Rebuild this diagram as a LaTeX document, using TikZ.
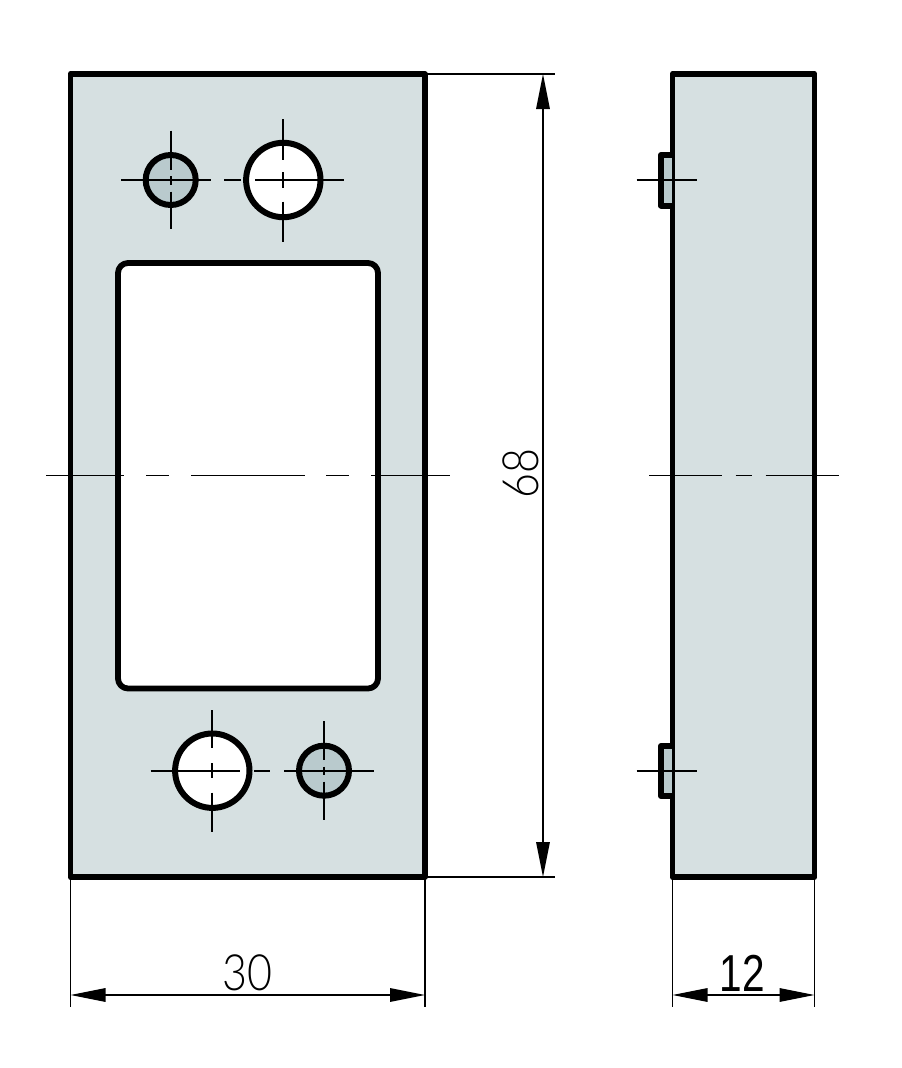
\documentclass[tikz,border=0pt]{standalone}
\usepackage{fontspec}
\setmainfont{Liberation Sans}
\newfontfamily\isofont{Lato Light}
\usetikzlibrary{arrows.meta}
\definecolor{plate}{HTML}{D6E0E1}
\definecolor{bore}{HTML}{B9CACD}
\tikzset{
  outline/.style={draw=black,line width=5.8pt,line join=round},
  hole line/.style={draw=black,line width=6pt},
  thin line/.style={draw=black,line width=1.5pt},
  centre line/.style={draw=black,line width=1.7pt},
  dim line/.style={draw=black,line width=1.5pt,{Triangle[length=35pt,width=13.5pt]}-{Triangle[length=35pt,width=13.5pt]}},
  dim text/.style={inner sep=0pt,font=\isofont\fontsize{50}{50}\selectfont},
  dim text b/.style={inner sep=0pt,font=\fontsize{52}{52}\selectfont},
}
\begin{document}
\begin{tikzpicture}[x=1pt,y=-1pt]
\useasboundingbox (0,0) rectangle (902,1068);
\fill[white] (0,0) rectangle (902,1068);
% named points for dimension geometry
\coordinate (fTL) at (70.5,74);
\coordinate (fTR) at (425,74);
\coordinate (fBL) at (70.5,877);
\coordinate (fBR) at (425,877);
\coordinate (sBL) at (672.5,877);
\coordinate (sBR) at (814.5,877);
\coordinate (e1) at (555,74);
\coordinate (e2) at (555,877);
\coordinate (e3) at (70.5,1007);
\coordinate (e4) at (425,1007);
\coordinate (e5) at (672.5,1007);
\coordinate (e6) at (814.5,1007);
\coordinate (d1) at (543,74);
\coordinate (d2) at (543,877);
\coordinate (d3) at (70.5,995);
\coordinate (d4) at (425,995);
\coordinate (d5) at (672.5,995);
\coordinate (d6) at (814.5,995);
% front plate
\draw[outline,fill=plate] (fTL) rectangle (fBR);
\draw[outline,fill=white,rounded corners=10pt] (118,263) rectangle (378,688.5);
% holes
\draw[hole line,fill=bore] (170.7,180) circle (25);
\draw[hole line,fill=white] (283.3,180) circle (37.2);
\draw[hole line,fill=white] (212.3,770.7) circle (37.2);
\draw[hole line,fill=bore] (324,770.7) circle (25);
% side view
\draw[outline,fill=plate] (672.5,74) rectangle (814.5,877);
\foreach \a/\b in {155/205.5,746/796}{
  \fill[bore] (661,\a) rectangle (672,\b);
  \draw[hole line,line join=round] (672,\a) -- (661,\a) -- (661,\b) -- (672,\b);
}
% centre lines
\draw[centre line]
  (121,180) -- (211,180)
  (170.7,130.7) -- (170.7,170) (170.7,176) -- (170.7,185) (170.7,191.7) -- (170.7,229.3)
  (224.3,180) -- (241,180) (255,180) -- (344.3,180)
  (283.3,119) -- (283.3,160) (283.3,172.3) -- (283.3,187.7) (283.3,201.7) -- (283.3,241.7)
  (150.7,770.7) -- (240,770.7) (254,770.7) -- (270,770.7)
  (212.3,710) -- (212.3,748) (212.3,763) -- (212.3,778) (212.3,792.7) -- (212.3,832.3)
  (284,770.7) -- (374,770.7)
  (324,721) -- (324,760) (324,766.7) -- (324,775) (324,781.7) -- (324,820)
  (46,475.5) -- (124,475.5) (146,475.5) -- (169,475.5) (191,475.5) -- (304.5,475.5)
  (326,475.5) -- (349,475.5) (371,475.5) -- (449.5,475.5)
  (649,475.5) -- (721.7,475.5) (735.7,475.5) -- (751.7,475.5) (765.7,475.5) -- (839,475.5)
  (636.7,180) -- (696.7,180)
  (636.7,770.7) -- (696.7,770.7);
% extension lines
\draw[thin line] (fTR) -- (e1);
\draw[thin line] (fBR) -- (e2);
\draw[thin line] (fBL) -- (e3);
\draw[thin line] (fBR) -- (e4);
\draw[thin line] (sBL) -- (e5);
\draw[thin line] (sBR) -- (e6);
% dimensions
\draw[dim line] (d1) -- (d2);
\draw[dim line] (d3) -- (d4);
\draw[dim line] (d5) -- (d6);
\node[dim text] (t30) at (247.5,973) {\scalebox{.86}[1]{30}};
\node[dim text b] (t12) at (742.5,973.5) {\scalebox{.78}[1]{12}};
\node[dim text,rotate=90] (t68) at (521,473.5) {\scalebox{.86}[1]{68}};
\end{tikzpicture}
\end{document}
